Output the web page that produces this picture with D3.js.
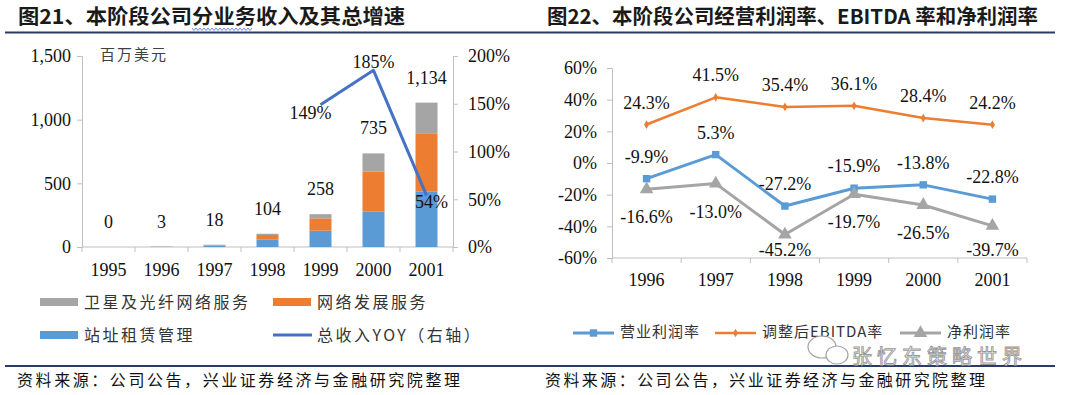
<!DOCTYPE html>
<meta charset="utf-8">
<style>
  html, body { margin:0; background:#fff; }
  svg { display:block; }
  .serif { font-family: "Liberation Serif", "DejaVu Serif", serif; }
  .cjk { font-family: "Noto Sans CJK SC", sans-serif; }
</style>
<svg width="1080" height="395"></svg>
<script src="https://d3js.org/d3.v7.min.js"></script>
<script>

// left chart: revenue by business (US$ mn) + total YOY
var years1 = ["1995", "1996", "1997", "1998", "1999", "2000", "2001"],
    siteLease = [0, 2, 10, 60, 128, 277, 434],
    netDev = [0, 1, 5, 34, 97, 314, 459],
    satFiber = [0, 0, 3, 10, 33, 144, 241],
    totalRev = [0, 3, 18, 104, 258, 735, 1134],
    yoyYears = ["1999", "2000", "2001"],
    yoy = [1.49, 1.85, 0.54],
    leftTicks = [0, 500, 1000, 1500],
    rightTicks = [0, 0.5, 1, 1.5, 2];

// right chart: margins
var years2 = ["1996", "1997", "1998", "1999", "2000", "2001"],
    opMargin = [-9.9, 5.3, -27.2, -15.9, -13.8, -22.8],
    ebitdaMargin = [24.3, 41.5, 35.4, 36.1, 28.4, 24.2],
    netMargin = [-16.6, -13.0, -45.2, -19.7, -26.5, -39.7],
    marginTicks = [-60, -40, -20, 0, 20, 40, 60];

var svg = d3.select("svg"),
    navy = "#2b3a67",
    axisGrey = "#bfbfbf";

// ---------- headers / footers ----------
function header(x0, x1, tx, len, txt) {
  svg.append("text").attr("class", "cjk").attr("x", tx).attr("y", 24)
      .attr("font-size", 20).attr("font-weight", 700).attr("fill", "#1a1a1a")
      .attr("textLength", len).attr("lengthAdjust", "spacingAndGlyphs").text(txt);
  svg.append("line").attr("x1", x0).attr("x2", x1).attr("y1", 32.5).attr("y2", 32.5)
      .attr("stroke", navy).attr("stroke-width", 2);
}
function footer(x0, x1, tx, len) {
  svg.append("line").attr("x1", x0).attr("x2", x1).attr("y1", 366).attr("y2", 366)
      .attr("stroke", navy).attr("stroke-width", 2);
  svg.append("text").attr("class", "cjk").attr("x", tx).attr("y", 386)
      .attr("font-size", 16).attr("fill", "#111")
      .attr("textLength", len).attr("lengthAdjust", "spacing")
      .text("资料来源：公司公告，兴业证券经济与金融研究院整理");
}
header(5, 540, 18, 387, "图21、本阶段公司分业务收入及其总增速");
header(540, 1055, 547, 491, "图22、本阶段公司经营利润率、EBITDA 率和净利润率");
footer(5, 540, 17, 443);
footer(540, 1055, 545, 440);

// spell-check squiggle under 分业务
svg.append("path")
    .attr("d", d3.line()(d3.range(0, 31).map(function(i) { return [192 + i * 2, 29 + (i % 2 ? 1.5 : -1)]; })))
    .attr("fill", "none").attr("stroke", "#4a6fd0").attr("stroke-width", 0.8);

// ---------- left chart ----------
var x1 = d3.scaleBand().domain(years1).range([82, 453]).paddingInner(0.585).paddingOuter(0.2925),
    yL = d3.scaleLinear().domain([0, 1500]).range([247, 56]),
    yR = d3.scaleLinear().domain([0, 2]).range([247, 56]);

var gL = svg.append("g");

var axL = gL.append("g").attr("transform", "translate(82,0)")
    .call(d3.axisLeft(yL).tickValues(leftTicks).tickFormat(d3.format(",")).tickSizeOuter(0).tickSize(5).tickPadding(6));
var axR = gL.append("g").attr("transform", "translate(453,0)")
    .call(d3.axisRight(yR).tickValues(rightTicks).tickFormat(d3.format(".0%")).tickSizeOuter(0).tickSize(5).tickPadding(10));
[axL, axR].forEach(function(a) {
  a.selectAll("path, line").attr("stroke", axisGrey);
  a.selectAll("text").attr("class", "serif").attr("font-size", 18).attr("fill", "#111");
});

// x axis
var step1 = x1.step(), x1start = 82;
gL.append("line").attr("x1", 82).attr("x2", 453).attr("y1", 247).attr("y2", 247).attr("stroke", axisGrey);
gL.selectAll(".xt").data(d3.range(years1.length + 1)).enter().append("line")
    .attr("x1", function(i) { return x1start + i * step1; }).attr("x2", function(i) { return x1start + i * step1; })
    .attr("y1", 247).attr("y2", 252).attr("stroke", axisGrey);
gL.selectAll(".xl").data(years1).enter().append("text").attr("class", "serif")
    .attr("x", function(d) { return x1(d) + x1.bandwidth() / 2; }).attr("y", 276)
    .attr("text-anchor", "middle").attr("font-size", 18).attr("fill", "#111").text(function(d) { return d; });

// stacked bars
var rows = years1.map(function(y, i) { return { year: y, site: siteLease[i], dev: netDev[i], sat: satFiber[i] }; });
var stack = d3.stack().keys(["site", "dev", "sat"])(rows);
var barColors = { site: "#5b9bd5", dev: "#ed7d31", sat: "#a5a5a5" };
gL.selectAll(".layer").data(stack).enter().append("g")
    .attr("fill", function(d) { return barColors[d.key]; })
  .selectAll("rect").data(function(d) { return d; }).enter().append("rect")
    .attr("x", function(d) { return x1(d.data.year); })
    .attr("width", x1.bandwidth())
    .attr("y", function(d) { return yL(d[1]); })
    .attr("height", function(d) { return yL(d[0]) - yL(d[1]); });

// totals
gL.selectAll(".tot").data(totalRev).enter().append("text").attr("class", "serif")
    .attr("x", function(d, i) { return x1(years1[i]) + x1.bandwidth() / 2; })
    .attr("y", function(d) { return yL(d) - 19; })
    .attr("text-anchor", "middle").attr("font-size", 18).attr("fill", "#111")
    .text(d3.format(","));

gL.append("text").attr("class", "cjk").attr("x", 100).attr("y", 60)
    .attr("font-size", 15).attr("letter-spacing", 2).attr("fill", "#404040").text("百万美元");

// YOY line
var yoyLine = d3.line()
    .x(function(d, i) { return x1(yoyYears[i]) + x1.bandwidth() / 2; })
    .y(function(d) { return yR(d); });
gL.append("path").attr("d", yoyLine(yoy)).attr("fill", "none")
    .attr("stroke", "#4472c4").attr("stroke-width", 3).attr("stroke-linejoin", "round");
var yoyOff = [[-10, 14], [0, -2], [5, 13]];
gL.selectAll(".yoyl").data(yoy).enter().append("text").attr("class", "serif")
    .attr("x", function(d, i) { return x1(yoyYears[i]) + x1.bandwidth() / 2 + yoyOff[i][0]; })
    .attr("y", function(d, i) { return yR(d) + yoyOff[i][1]; })
    .attr("text-anchor", "middle").attr("font-size", 18).attr("fill", "#111")
    .text(function(d) { return Math.round(d * 100) + "%"; });

// left legend
var legL = [
  { name: "卫星及光纤网络服务", color: "#a5a5a5", type: "rect", x: 40, y: 302 },
  { name: "网络发展服务", color: "#ed7d31", type: "rect", x: 273, y: 302 },
  { name: "站址租赁管理", color: "#5b9bd5", type: "rect", x: 40, y: 335 },
  { name: "总收入YOY（右轴）", color: "#4472c4", type: "line", x: 273, y: 335 }
];
legL.forEach(function(l) {
  if (l.type === "rect") {
    svg.append("rect").attr("x", l.x).attr("y", l.y - 4).attr("width", 38).attr("height", 8).attr("fill", l.color);
  } else {
    svg.append("line").attr("x1", l.x).attr("x2", l.x + 39).attr("y1", l.y).attr("y2", l.y)
        .attr("stroke", l.color).attr("stroke-width", 3);
  }
  svg.append("text").attr("class", "cjk").attr("x", l.x + 44).attr("y", l.y + 6)
      .attr("font-size", 16).attr("letter-spacing", 2.5).attr("fill", "#333").text(l.name);
});

// ---------- right chart ----------
var x2 = d3.scaleBand().domain(years2).range([612, 1027]),
    y2 = d3.scaleLinear().domain([-60, 60]).range([258, 68]);
var gR = svg.append("g");

var ax2 = gR.append("g").attr("transform", "translate(612,0)")
    .call(d3.axisLeft(y2).tickValues(marginTicks).tickFormat(function(d) { return d + "%"; })
      .tickSizeOuter(0).tickSize(5).tickPadding(10));
ax2.selectAll("path, line").attr("stroke", axisGrey);
ax2.selectAll("text").attr("class", "serif").attr("font-size", 18).attr("fill", "#111");

gR.append("line").attr("x1", 612).attr("x2", 1027).attr("y1", 258).attr("y2", 258).attr("stroke", axisGrey);
gR.selectAll(".xt").data(d3.range(years2.length + 1)).enter().append("line")
    .attr("x1", function(i) { return 612 + i * x2.step(); }).attr("x2", function(i) { return 612 + i * x2.step(); })
    .attr("y1", 258).attr("y2", 263).attr("stroke", axisGrey);
gR.selectAll(".xl").data(years2).enter().append("text").attr("class", "serif")
    .attr("x", function(d) { return x2(d) + x2.bandwidth() / 2; }).attr("y", 286)
    .attr("text-anchor", "middle").attr("font-size", 18).attr("fill", "#111").text(function(d) { return d; });

var cx = function(d, i) { return x2(years2[i]) + x2.bandwidth() / 2; };
var line2 = d3.line().x(cx).y(function(d) { return y2(d); });

var series = [
  { name: "营业利润率", values: opMargin, color: "#5b9bd5", width: 3, marker: "square", labelDy: -16 },
  { name: "调整后EBITDA率", values: ebitdaMargin, color: "#ed7d31", width: 2.5, marker: "diamond", labelDy: -16 },
  { name: "净利润率", values: netMargin, color: "#a5a5a5", width: 3, marker: "triangle", labelDy: 34 }
];
var sym = {
  square: d3.symbol().type(d3.symbolSquare).size(55),
  diamond: d3.symbol().type(d3.symbolDiamond).size(22),
  triangle: d3.symbol().type(d3.symbolTriangle).size(80)
};

series.forEach(function(s) {
  var g = gR.append("g");
  g.append("path").attr("d", line2(s.values)).attr("fill", "none")
      .attr("stroke", s.color).attr("stroke-width", s.width).attr("stroke-linejoin", "round");
  g.selectAll(".m").data(s.values).enter().append("path")
      .attr("transform", function(d, i) { return "translate(" + cx(d, i) + "," + y2(d) + ")"; })
      .attr("d", sym[s.marker]()).attr("fill", s.color);
  g.selectAll(".lb").data(s.values).enter().append("text").attr("class", "serif")
      .attr("x", cx)
      .attr("y", function(d) { return Math.min(y2(d) + s.labelDy, 256); })
      .attr("text-anchor", "middle").attr("font-size", 18).attr("fill", "#111")
      .text(function(d) { return d.toFixed(1) + "%"; });
});

// right legend
var legX = [573, 715, 900];
series.forEach(function(s, i) {
  var lx = legX[i], ly = 333;
  svg.append("line").attr("x1", lx).attr("x2", lx + 41).attr("y1", ly).attr("y2", ly)
      .attr("stroke", s.color).attr("stroke-width", s.width);
  svg.append("path").attr("transform", "translate(" + (lx + 20.5) + "," + ly + ")")
      .attr("d", sym[s.marker]()).attr("fill", s.color);
  svg.append("text").attr("class", "cjk").attr("x", lx + 47).attr("y", ly + 4)
      .attr("font-size", 15).attr("letter-spacing", 1).attr("fill", "#333").text(s.name);
});

// watermark
var wm = svg.append("g").attr("opacity", 0.9);
wm.append("ellipse").attr("cx", 822).attr("cy", 347).attr("rx", 14).attr("ry", 11)
    .attr("fill", "#fff").attr("stroke", "#9a9a9a").attr("stroke-width", 1.2);
wm.append("ellipse").attr("cx", 837).attr("cy", 355).attr("rx", 11).attr("ry", 9)
    .attr("fill", "#fff").attr("stroke", "#9a9a9a").attr("stroke-width", 1.2);
wm.append("text").attr("class", "cjk").attr("x", 852).attr("y", 364)
    .attr("font-size", 20).attr("letter-spacing", 5).attr("fill", "#fff").attr("stroke", "#8c8c8c").attr("stroke-width", 0.9)
    .text("张忆东策略世界");

</script>
